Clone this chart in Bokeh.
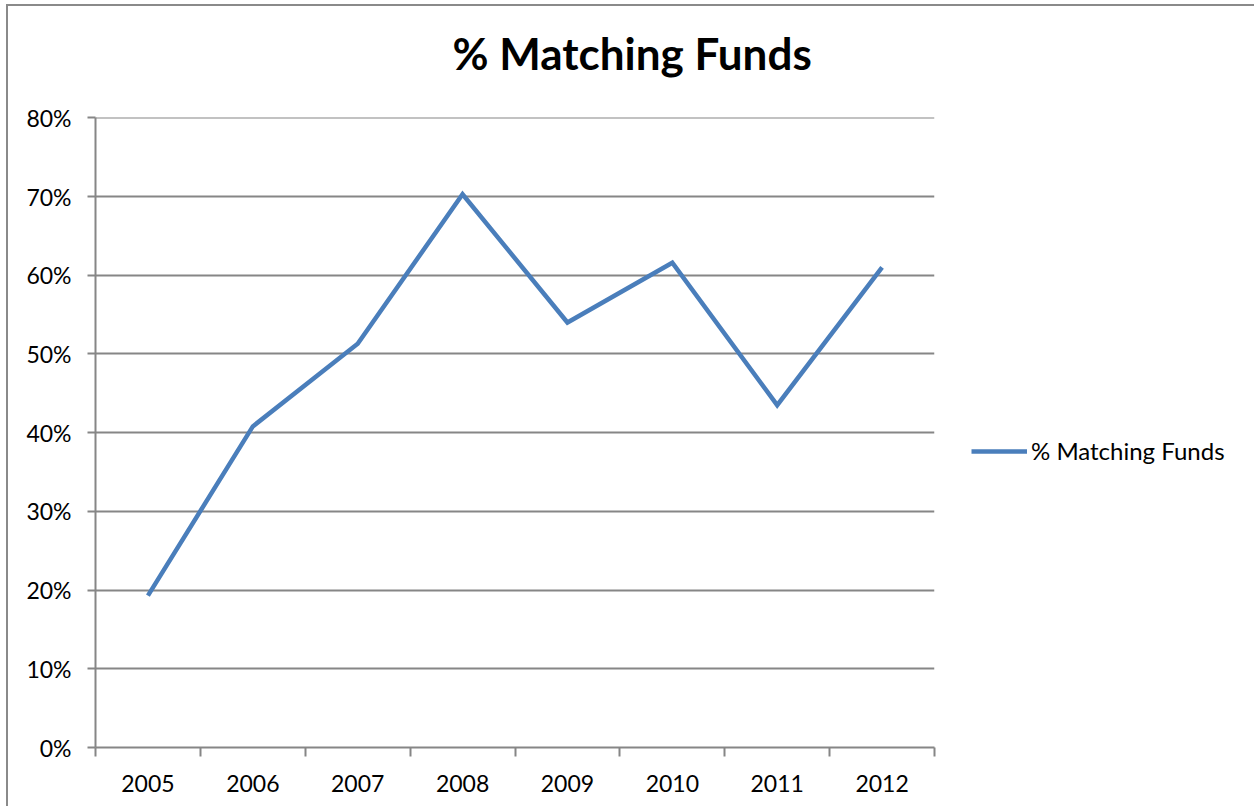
from bokeh.plotting import figure
from bokeh.layouts import column
from bokeh.models import FixedTicker, Range1d, Legend, LegendItem
from bokeh.embed import file_html
from bokeh.resources import INLINE

years = ["2005", "2006", "2007", "2008", "2009", "2010", "2011", "2012"]
matching = [19.3, 40.8, 51.3, 70.3, 54.0, 61.6, 43.5, 61.0]
y_ticks = [0, 10, 20, 30, 40, 50, 60, 70, 80]
title_text = "% Matching Funds"
series_name = "% Matching Funds"

FONT = "Lato"
GRAY = "#868686"

xs = [i + 0.5 for i in range(len(years))]

p = figure(frame_width=839, frame_height=630, output_backend="svg", toolbar_location=None,
           x_range=Range1d(0, len(years)), y_range=Range1d(0, y_ticks[-1] + 0.05),
           min_border_left=87, min_border_right=0, min_border_top=131, min_border_bottom=59)
p.outline_line_color = None
p.background_fill_color = "white"
p.border_fill_alpha = 0
p.styles = {"margin-top": "-20px"}

# title
p.title.text = title_text
p.title.align = "left"
p.title.offset = 357
p.title.vertical_align = "top"
p.title.text_font = FONT
p.title.text_font_size = "44px"
p.title.text_font_style = "bold"
p.title.text_color = "black"
p.title.standoff = 74

# x axis: labels at centres, tick marks at category boundaries
p.xaxis.ticker = FixedTicker(ticks=xs, minor_ticks=list(range(len(years) + 1)))
p.xaxis.major_label_overrides = {x: y for x, y in zip(xs, years)}
p.xaxis.major_tick_out = 0
p.xaxis.major_tick_in = 0
p.xaxis.minor_tick_out = 9
p.xaxis.minor_tick_in = 0
p.xaxis.minor_tick_line_color = GRAY
p.xaxis.minor_tick_line_width = 2
p.xaxis.axis_line_color = GRAY
p.xaxis.axis_line_width = 2
p.xaxis.major_label_standoff = 18
p.xgrid.grid_line_color = None

p.yaxis.ticker = FixedTicker(ticks=y_ticks, minor_ticks=[])
p.yaxis.major_label_overrides = {t: f"{t}%" for t in y_ticks}
p.yaxis.major_tick_out = 8
p.yaxis.major_tick_in = 0
p.yaxis.major_tick_line_color = GRAY
p.yaxis.major_tick_line_width = 2
p.yaxis.minor_tick_line_color = None
p.yaxis.axis_line_color = GRAY
p.yaxis.axis_line_width = 2
p.yaxis.major_label_standoff = 16
p.ygrid.grid_line_color = GRAY
p.ygrid.grid_line_width = 2

for ax in (p.xaxis, p.yaxis):
    ax.major_label_text_font = FONT
    ax.major_label_text_font_size = "23px"
    ax.major_label_text_color = "black"

r = p.line(xs, matching, line_color="#4A7EBB", line_width=4.5, line_join="miter")

legend = Legend(items=[LegendItem(label=series_name, renderers=[r])],
                location=(37, 282), glyph_width=56, label_standoff=4,
                padding=0, margin=0, border_line_color=None, background_fill_alpha=0,
                label_text_font=FONT, label_text_font_size="24px", label_text_color="black")
p.add_layout(legend, "right")

page = column(p, styles={"margin-left": "6px", "margin-top": "4px",
                         "border-left": "2px solid #8a8a8a", "border-top": "2px solid #8a8a8a"})

open("out.html", "w").write(file_html(page, INLINE))
